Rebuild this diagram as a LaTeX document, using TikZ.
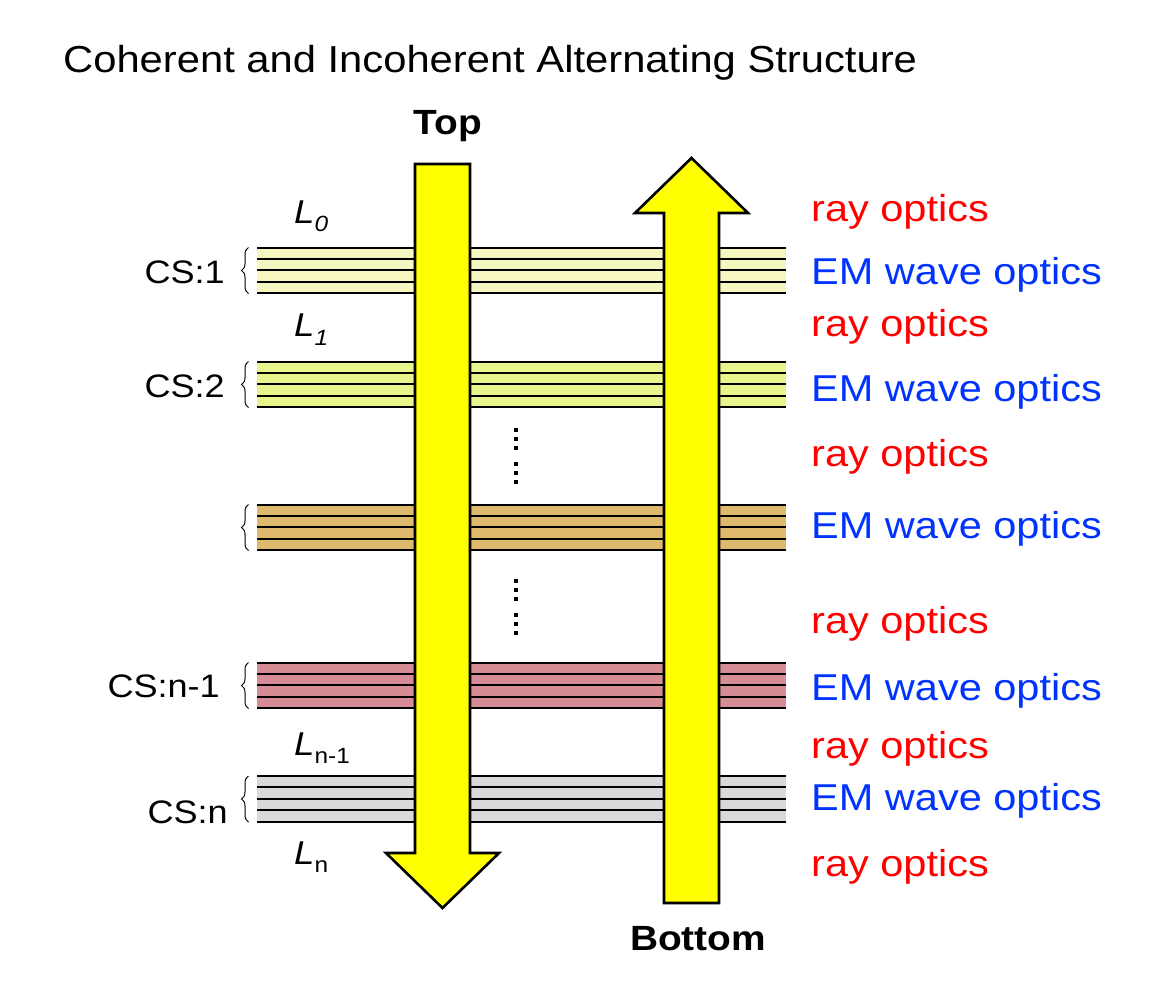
\documentclass[tikz,border=0pt]{standalone}
\usepackage{fontspec}
\setmainfont{Liberation Sans}[FakeStretch=1.11]
\usetikzlibrary{decorations.pathreplacing}

\definecolor{rayred}{RGB}{255,0,0}
\definecolor{emblue}{RGB}{0,51,255}
\definecolor{csone}{RGB}{245,246,192}
\definecolor{cstwo}{RGB}{232,245,140}
\definecolor{csmid}{RGB}{222,185,110}
\definecolor{cspre}{RGB}{213,140,148}
\definecolor{cslast}{RGB}{217,217,217}
\definecolor{flechayellow}{RGB}{255,255,0}

\tikzset{
    capa/.style={line width=2pt},
    flecha/.style={draw=black, line width=2.6pt, fill=flechayellow, line join=miter},
    rayo/.style={text=rayred, anchor=base west, inner sep=0pt, font=\fontsize{37.4}{40}\selectfont},
    onda/.style={text=emblue, anchor=base west, inner sep=0pt, font=\fontsize{37.4}{40}\selectfont},
    cslabel/.style={anchor=base east, inner sep=0pt, font=\fontsize{32.5}{36}\selectfont},
    llabel/.style={anchor=base west, inner sep=0pt, font=\fontsize{33}{36}\selectfont},
    llave/.style={decorate, decoration={brace, amplitude=7pt}, line width=1pt},
    lado/.style={anchor=base, inner sep=0pt, font=\bfseries\fontsize{35}{40}\selectfont}
}
\newcommand{\subidx}[1]{\raisebox{-8.5pt}{\fontsize{22}{22}\selectfont #1}}

\begin{document}
\begin{tikzpicture}[x=1pt, y=-1pt]
    \useasboundingbox (0,0) rectangle (1172,985);
    \node[anchor=base west, inner sep=0pt, font=\fontsize{37.6}{40}\selectfont] (titulo) at (63,72)
        {Coherent and Incoherent Alternating Structure};

    % Pilas coherentes: cuatro franjas entre cinco líneas.
    \foreach \yy/\col in {247.5/csone, 361.5/cstwo, 504.5/csmid, 662.5/cspre, 776/cslast}{
        \fill[\col] (257,\yy) rectangle (786,\yy+45.5);
        \foreach \k in {0,...,4}
            \draw[capa] (257,\yy+\k*11.375) -- (786,\yy+\k*11.375);
        \draw[llave] (248.5,\yy+46) -- (248.5,\yy);
    }

    % Puntos suspensivos entre pilas.
    \foreach \yy in {430,439,448,464,473,482,581,590,599,615,624,633}
        \fill (514.3,\yy-1.7) rectangle (517.7,\yy+1.7);

    % Flechas de ida (Top) y de vuelta (Bottom).
    \draw[flecha] (415,164) -- (470,164) -- (470,853) -- (499,853) -- (442.5,908)
        -- (386,853) -- (415,853) -- cycle;
    \draw[flecha] (664,903) -- (719,903) -- (719,213) -- (748,213) -- (691.5,158)
        -- (635,213) -- (664,213) -- cycle;
    \node[lado] (top) at (448,134) {Top};
    \node[lado] (bottom) at (698,950) {Bottom};

    \node[cslabel] (cs1) at (225,283) {CS:1};
    \node[cslabel] (cs2) at (225,397) {CS:2};
    \node[cslabel] (csm) at (220,697) {CS:n-1};
    \node[cslabel] (csn) at (228,823) {CS:n};

    \node[llabel] (l0) at (294,223.3) {\textit{L}\subidx{\textit{0}}};
    \node[llabel] (l1) at (294,336.7) {\textit{L}\subidx{\textit{1}}};
    \node[llabel] (lm) at (294,755) {\textit{L}\subidx{n-1}};
    \node[llabel] (ln) at (294,864) {\textit{L}\subidx{n}};

    \foreach \yy [count=\i] in {221.7, 336.7, 466.7, 633.3, 758.3, 876.7}
        \node[rayo] (ray\i) at (811,\yy) {ray optics};
    \foreach \yy [count=\i] in {284, 401.7, 538.3, 700.7, 810.7}
        \node[onda] (em\i) at (811,\yy) {EM wave optics};
\end{tikzpicture}
\end{document}
